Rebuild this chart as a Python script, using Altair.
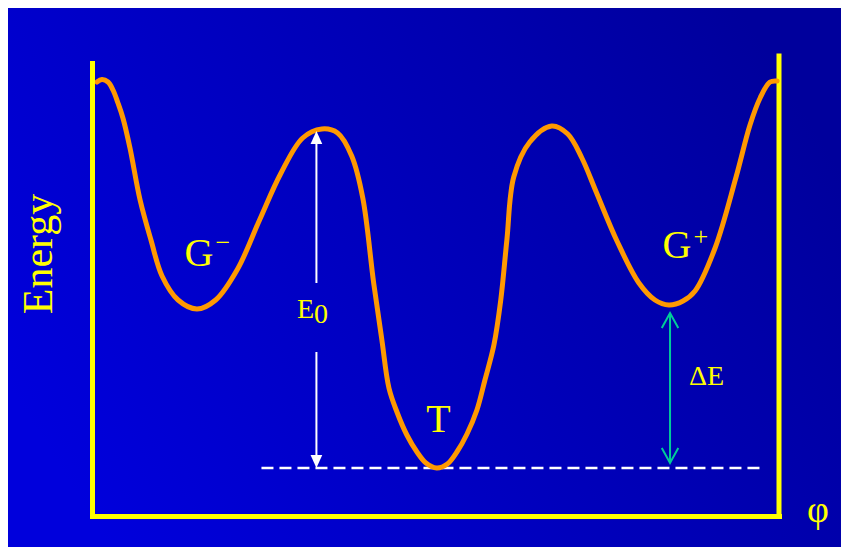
import altair as alt
import pandas as pd

# ---- potential-energy curve (phi in degrees, energy in arbitrary units, T minimum = 0)
phi = [2.6, 5.2, 8.4, 11.0, 13.6, 16.2, 19.9, 25.2, 30.9, 36.7,
       45.1, 55.0, 64.8, 76.3, 87.8, 98.8, 110.4, 120.4, 128.7, 136.1,
       141.9, 147.6, 151.9, 155.6, 159.8, 165.0, 170.3, 175.0, 180.6, 186.2,
       191.2, 196.5, 201.7, 205.9, 210.6, 214.2, 217.4, 221.0, 229.4, 240.9,
       249.3, 256.7, 264.0, 275.1, 286.6, 295.0, 302.3, 309.7, 316.0, 326.5,
       337.5, 344.8, 350.1, 355.3, 359.0]
energy = [38.6, 38.85, 38.6, 37.8, 36.5, 35.0, 32.0, 26.8, 22.8, 19.2,
          16.8, 15.9, 16.8, 19.9, 24.8, 29.4, 33.0, 33.9, 33.5, 31.2,
          27.0, 18.5, 12.8, 8.0, 5.6, 3.3, 1.6, 0.5, 0.0, 0.4,
          1.6, 3.4, 5.8, 8.8, 12.3, 16.8, 22.8, 29.1, 32.6, 34.2,
          33.4, 31.0, 27.7, 22.7, 18.5, 16.8, 16.3, 16.7, 17.7, 22.0,
          29.1, 34.3, 37.0, 38.6, 38.7]

# ---- annotations
state_text = ["G", "G", "T"]
state_phi = [56.1, 306.5, 181.6]
state_E = [20.2, 21.0, 3.6]

sup_text = ["\u2212", "+"]
sup_phi = [68.6, 319.1]
sup_E = [21.7, 22.3]

level_text = ["E", "0", "\u0394E"]
level_phi = [107.4, 116.3, 312.8]
level_E = [15.0, 14.5, 8.3]

# E0 arrow (white) and dE arrow (green)
e0_phi = 117.6
e0_upper = [18.5, 33.0]
e0_lower = [1.0, 11.6]
e0_tip_top, e0_tip_bottom = 33.7, 0.0
de_phi = 302.9
de_span = [0.5, 15.5]

# dashed reference level
ref_phi = [88.8, 350.4]
ref_E = 0.0

# frame
phi_domain = [0, 360]
E_domain = [-4.8, 40.5]
right_frame_E = [-4.8, 41.2]

W, H = 687, 453
PAD = {"left": 84, "top": 55, "right": 62, "bottom": 31}
YELLOW = "#ffff00"
FONT = "Liberation Serif"

axis_x = alt.Axis(domain=True, domainColor=YELLOW, domainWidth=5, domainCap="square",
                  ticks=False, labels=False, grid=False, title=None, zindex=2)
axis_y = alt.Axis(domain=True, domainColor=YELLOW, domainWidth=5, domainCap="square",
                  ticks=False, labels=False, grid=False, title=None, zindex=2)
xs = alt.Scale(domain=phi_domain, nice=False, zero=False)
ys = alt.Scale(domain=E_domain, nice=False, zero=False)


def X(f="phi"):
    return alt.X(f"{f}:Q", scale=xs, axis=axis_x)


def Y(f="E"):
    return alt.Y(f"{f}:Q", scale=ys, axis=axis_y)


bg = alt.Chart(alt.Data(values=[{"a": 1}])).mark_rect(
    color=alt.Gradient(gradient="linear",
                       stops=[alt.GradientStop(color="#0000dc", offset=0),
                              alt.GradientStop(color="#00009c", offset=1)],
                       x1=0, y1=0.7, x2=1, y2=0.3)
).encode(x=alt.value(-PAD["left"]), x2=alt.value(W + PAD["right"]),
         y=alt.value(-PAD["top"]), y2=alt.value(H + PAD["bottom"]))

curve_df = pd.DataFrame({"phi": phi, "E": energy})
curve = alt.Chart(curve_df).mark_line(
    color="#ff9900", strokeWidth=5, interpolate="catmull-rom", strokeCap="round"
).encode(x=X(), y=Y())

ref_df = pd.DataFrame({"phi": [ref_phi[0]], "phi2": [ref_phi[1]], "E": [ref_E]})
ref = alt.Chart(ref_df).mark_rule(color="white", strokeWidth=2.5, strokeDash=[12, 6]).encode(
    x=X(), x2="phi2:Q", y=Y())

frame_df = pd.DataFrame({"phi": [phi_domain[1]], "E": [right_frame_E[0]], "E2": [right_frame_E[1]]})
frame = alt.Chart(frame_df).mark_rule(color=YELLOW, strokeWidth=5, strokeCap="square").encode(
    x=X(), y=Y(), y2="E2:Q")

seg_df = pd.DataFrame({"phi": [e0_phi, e0_phi], "E": [e0_upper[0], e0_lower[0]],
                       "E2": [e0_upper[1], e0_lower[1]]})
e0_lines = alt.Chart(seg_df).mark_rule(color="white", strokeWidth=2).encode(
    x=X(), y=Y(), y2="E2:Q")
e0_up = alt.Chart(pd.DataFrame({"phi": [e0_phi], "E": [e0_tip_top]})).mark_point(
    shape="M0,0L0.9,2L-0.9,2Z", size=169, filled=True, color="white", opacity=1, strokeWidth=0
).encode(x=X(), y=Y())
e0_down = alt.Chart(pd.DataFrame({"phi": [e0_phi], "E": [e0_tip_bottom]})).mark_point(
    shape="M0,0L0.9,-2L-0.9,-2Z", size=169, filled=True, color="white", opacity=1, strokeWidth=0
).encode(x=X(), y=Y())

GREEN = "#00cc99"
de_line = alt.Chart(pd.DataFrame({"phi": [de_phi], "E": [de_span[0]], "E2": [de_span[1]]})).mark_rule(
    color=GREEN, strokeWidth=2).encode(x=X(), y=Y(), y2="E2:Q")
de_up = alt.Chart(pd.DataFrame({"phi": [de_phi], "E": [de_span[1]]})).mark_point(
    shape="M-0.55,1L0,0L0.55,1", size=900, filled=False, color=GREEN, opacity=1, strokeWidth=2
).encode(x=X(), y=Y())
de_down = alt.Chart(pd.DataFrame({"phi": [de_phi], "E": [de_span[0]]})).mark_point(
    shape="M-0.55,-1L0,0L0.55,-1", size=900, filled=False, color=GREEN, opacity=1, strokeWidth=2
).encode(x=X(), y=Y())

states = alt.Chart(pd.DataFrame({"t": state_text, "phi": state_phi, "E": state_E})).mark_text(
    font=FONT, fontSize=40, color=YELLOW, align="center", baseline="alphabetic"
).encode(x=X(), y=Y(), text="t:N")
sups = alt.Chart(pd.DataFrame({"t": sup_text, "phi": sup_phi, "E": sup_E})).mark_text(
    font=FONT, fontSize=26, color=YELLOW, align="center", baseline="alphabetic"
).encode(x=X(), y=Y(), text="t:N")
levels = alt.Chart(pd.DataFrame({"t": level_text, "phi": level_phi, "E": level_E})).mark_text(
    font=FONT, fontSize=28, color=YELLOW, align="left", baseline="alphabetic"
).encode(x=X(), y=Y(), text="t:N")

ytitle = alt.Chart(pd.DataFrame({"t": ["Energy"], "phi": [-21.0], "E": [21.4]})).mark_text(
    font=FONT, fontSize=42, color=YELLOW, align="center", baseline="alphabetic", angle=270
).encode(x=X(), y=Y(), text="t:N")
xtitle = alt.Chart(pd.DataFrame({"t": ["\u03c6"], "phi": [380.4], "E": [-5.4]})).mark_text(
    font=FONT, fontSize=38, color=YELLOW, align="center", baseline="alphabetic"
).encode(x=X(), y=Y(), text="t:N")

chart = alt.layer(
    bg, ref, frame, curve, e0_lines, e0_up, e0_down, de_line, de_up, de_down,
    states, sups, levels, ytitle, xtitle
).properties(
    width=W, height=H,
    autosize=alt.AutoSizeParams(type="none"),
    padding=PAD,
    background="#0000b8",
).configure_view(stroke=None)

chart.save("out.html", embed_options={"renderer": "svg", "actions": False})
